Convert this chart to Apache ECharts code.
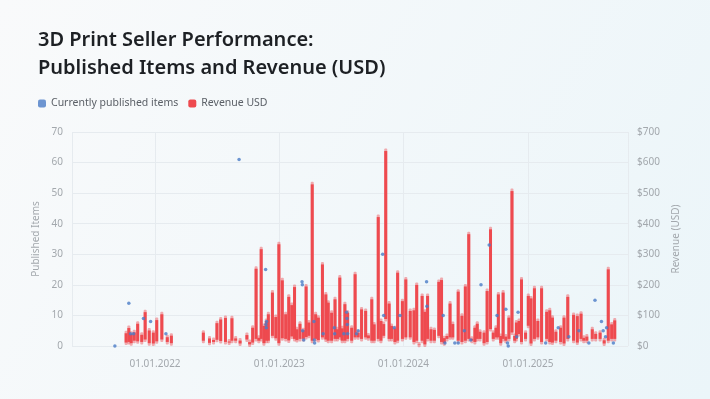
<!DOCTYPE html>
<html>
<head>
<meta charset="utf-8">
<script src="https://cdn.jsdelivr.net/npm/echarts@6/dist/echarts.min.js"></script>
<style>
html,body{margin:0;padding:0;width:710px;height:399px;overflow:hidden;}
#chart{width:710px;height:399px;}
</style>
</head>
<body>
<div id="chart"></div>
<script>
const revDates = ['2021-10-08','2021-10-16','2021-10-23','2021-11-01','2021-11-11','2021-11-23','2021-12-03','2021-12-15','2021-12-27','2022-01-06','2022-01-21','2022-02-06','2022-02-18',
'2022-05-23','2022-06-10','2022-06-22','2022-07-02','2022-07-13','2022-07-27','2022-08-07','2022-08-15','2022-08-26','2022-09-08','2022-09-28','2022-10-06','2022-10-15','2022-10-25','2022-11-02','2022-11-09','2022-11-17','2022-11-24','2022-11-30','2022-12-12','2022-12-22','2022-12-31',
'2023-01-10','2023-01-20','2023-01-29','2023-02-07','2023-02-15','2023-02-22','2023-03-03','2023-03-13','2023-03-21','2023-03-29','2023-04-08','2023-04-18','2023-04-26','2023-05-08','2023-05-18','2023-05-25','2023-06-04','2023-06-14','2023-06-21','2023-06-28','2023-07-05','2023-07-13','2023-07-21','2023-08-02','2023-08-12','2023-08-21','2023-08-31','2023-09-12','2023-09-20','2023-09-30','2023-10-07','2023-10-19','2023-10-27','2023-11-04','2023-11-10','2023-11-20','2023-11-27','2023-12-07','2023-12-15','2023-12-29',
'2024-01-08','2024-01-21','2024-02-01','2024-02-09','2024-02-16','2024-02-25','2024-03-04','2024-03-12','2024-03-22','2024-04-01','2024-04-14','2024-04-22','2024-04-30','2024-05-08','2024-05-17','2024-05-25','2024-06-10','2024-06-21','2024-07-01','2024-07-11','2024-07-20','2024-07-29','2024-08-05','2024-08-13','2024-08-25','2024-09-03','2024-09-13','2024-09-21','2024-09-29','2024-10-06','2024-10-13','2024-10-20','2024-10-28','2024-11-06','2024-11-15','2024-11-23','2024-11-28','2024-12-06','2024-12-13','2024-12-25',
'2025-01-02','2025-01-10','2025-01-20','2025-01-30','2025-02-10','2025-02-25','2025-03-06','2025-03-14','2025-03-24','2025-04-07','2025-04-17','2025-04-28','2025-05-15','2025-05-26','2025-06-06','2025-06-14','2025-06-23','2025-07-09','2025-07-19','2025-08-01','2025-08-13','2025-08-25','2025-09-04','2025-09-13'];
const revLow = [8,10,6,14,12,10,18,6,5,12,18,10,6,
14,7,10,17,13,10,8,14,14,5,18,2,8,20,14,20,6,14,14,30,22,6,
22,20,15,28,20,16,20,20,26,30,14,20,16,25,18,14,14,20,20,25,14,14,20,14,25,25,20,25,22,14,14,20,14,30,85,20,20,10,14,20,
25,25,10,14,1,14,2,20,14,14,30,10,6,20,25,25,14,10,14,20,14,10,20,20,6,10,52,20,25,25,6,20,14,20,41,14,20,36,10,20,
63,5,20,25,10,20,10,8,14,10,5,20,14,8,20,14,14,20,20,20,5,14,20,20];
const revHigh = [45,62,43,48,76,40,114,54,47,88,107,32,37,
47,28,23,78,90,95,18,94,28,21,39,16,63,256,30,320,69,85,107,178,98,336,
218,107,164,137,196,58,76,55,198,80,532,107,96,270,172,145,112,156,58,227,61,140,112,63,238,47,123,118,38,156,74,425,85,75,641,142,69,61,243,150,
221,118,120,203,8,167,115,167,58,56,213,219,29,36,142,75,181,102,198,369,27,63,76,50,47,183,385,47,63,172,36,178,34,96,510,36,80,85,221,47,
167,159,192,85,192,115,120,96,50,63,96,164,105,101,109,30,34,58,43,47,22,254,74,87];

const itemDates = ['2021-09-05','2021-10-16','2021-10-21','2021-10-30','2021-11-28','2021-12-19','2022-02-02','2022-09-05','2022-11-22','2022-11-23','2022-11-24','2022-11-25',
'2023-03-09','2023-03-10','2023-03-11','2023-03-14','2023-04-13','2023-04-14','2023-04-15','2023-05-10','2023-06-12','2023-06-13','2023-07-10','2023-07-18','2023-07-19','2023-07-20','2023-07-21','2023-08-16','2023-08-21','2023-11-01','2023-11-04','2023-12-05','2023-12-22',
'2024-03-09','2024-03-10','2024-04-27','2024-05-02','2024-05-31','2024-06-10','2024-06-28','2024-07-17','2024-08-16','2024-09-09','2024-10-02','2024-10-28','2024-11-02','2024-11-04','2024-11-29','2024-12-03',
'2025-02-22','2025-03-31','2025-05-01','2025-05-31','2025-06-29','2025-07-17','2025-08-05','2025-08-10','2025-08-17','2025-08-20','2025-09-09'];
const itemValues = [0,14,4,4,9,8,4,61,25,7,6,8,
21,20,5,2,8,2,1,4,6,4,4,11,9,7,4,4,5,30,10,6,10,
21,13,10,1,1,1,5,2,20,33,10,12,1,0,3,11,
1,6,3,5,1,15,8,5,3,6,1];

const leftTicks = {min: 0, max: 70, interval: 10};
const rightTicks = {min: 0, max: 700, interval: 100};
const xRange = {min: '2021-05-02', max: '2025-10-22'};

const revData = revDates.map((d, i) => [d, revLow[i], revHigh[i]]);
const itemData = itemDates.map((d, i) => [d, itemValues[i]]);

const RED = '#ee4a4f';
const BLUE = '#4a7cc7';
const gridColor = '#e6ebef';
const labelColor = '#a3a8ad';
const FONT = 'Noto Sans';

function renderRange(params, api) {
  const x = api.value(0);
  const lo = api.coord([x, api.value(1)]);
  const hi = api.coord([x, api.value(2)]);
  const w = 3;
  return {
    type: 'group',
    children: [{
      type: 'rect',
      shape: {x: lo[0] - w / 2, y: hi[1] - 1.5, width: w, height: lo[1] - hi[1] + 3, r: 1},
      style: {fill: 'rgba(238,74,79,0.45)'}
    }, {
      type: 'rect',
      shape: {x: lo[0] - w / 2, y: hi[1] + 1, width: w, height: Math.max(lo[1] - hi[1] - 2, 0.5)},
      style: {fill: RED}
    }]
  };
}

const chart = echarts.init(document.getElementById('chart'));
chart.setOption({
  backgroundColor: {
    type: 'linear', x: 0, y: 0, x2: 1, y2: 1,
    colorStops: [{offset: 0, color: '#f9fafb'}, {offset: 1, color: '#ebf5f9'}]
  },
  animation: false,
  textStyle: {fontFamily: FONT},
  title: {
    text: '3D Print Seller Performance:\nPublished Items and Revenue (USD)',
    left: 33, top: 21,
    textStyle: {fontFamily: FONT, fontSize: 20, fontWeight: 600, color: '#1d2024', lineHeight: 28}
  },
  legend: {
    left: 33, top: 93,
    itemWidth: 8, itemHeight: 8, itemGap: 10,
    textStyle: {fontFamily: FONT, fontSize: 10.5, color: '#5b6067'},
    data: [
      {name: 'Currently published items', icon: 'roundRect', itemStyle: {color: BLUE}},
      {name: 'Revenue USD', icon: 'roundRect', itemStyle: {color: RED}}
    ]
  },
  grid: {left: 72, right: 82, top: 132, bottom: 53},
  xAxis: {
    type: 'time',
    min: xRange.min, max: xRange.max,
    minInterval: 365 * 86400000, maxInterval: 366 * 86400000,
    axisLine: {show: false}, axisTick: {show: false},
    splitLine: {show: true, lineStyle: {color: gridColor, width: 1}},
    axisLabel: {
      color: labelColor, fontSize: 10, margin: 13, fontFamily: FONT,
      showMinLabel: false, showMaxLabel: false,
      formatter: function (v) {
        const d = new Date(v);
        if (d.getMonth() === 0 && d.getDate() === 1) {
          return '01.01.' + d.getFullYear();
        }
        return '';
      }
    }
  },
  yAxis: [{
    type: 'value', min: leftTicks.min, max: leftTicks.max, interval: leftTicks.interval,
    name: 'Published Items', nameLocation: 'middle', nameGap: 25,
    nameTextStyle: {color: labelColor, fontSize: 10, fontFamily: FONT},
    axisLine: {show: false}, axisTick: {show: false},
    axisLabel: {color: labelColor, fontSize: 10, margin: 9},
    splitLine: {lineStyle: {color: gridColor}}
  }, {
    type: 'value', min: rightTicks.min, max: rightTicks.max, interval: rightTicks.interval,
    name: 'Revenue (USD)', nameLocation: 'middle', nameGap: 35,
    nameTextStyle: {color: labelColor, fontSize: 10, fontFamily: FONT},
    axisLine: {show: false}, axisTick: {show: false},
    axisLabel: {color: labelColor, fontSize: 10, margin: 9, formatter: '${value}'},
    splitLine: {show: false}
  }],
  series: [{
    name: 'Currently published items',
    type: 'scatter',
    yAxisIndex: 0,
    data: itemData,
    symbol: 'circle',
    symbolSize: 3.5,
    itemStyle: {color: BLUE},
    z: 5
  }, {
    name: 'Revenue USD',
    type: 'custom',
    yAxisIndex: 1,
    data: revData,
    encode: {x: 0, y: [1, 2]},
    renderItem: renderRange,
    itemStyle: {color: RED},
    z: 2
  }]
});
</script>
</body>
</html>
